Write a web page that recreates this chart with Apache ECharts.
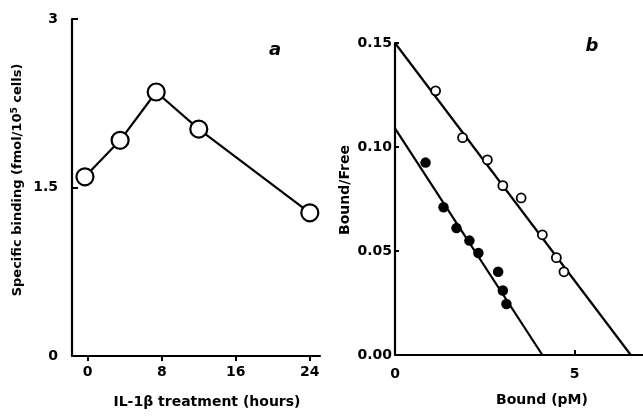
<!DOCTYPE html>
<html>
<head>
<meta charset="utf-8">
<script src="https://cdn.jsdelivr.net/npm/echarts@6/dist/echarts.min.js"></script>
<style>
  html, body { margin: 0; padding: 0; background: #fff; }
  #chart { width: 643px; height: 418px; }
</style>
</head>
<body>
<div id="chart"></div>
<script>
// panel a: binding vs IL-1b treatment time
const hours = [-0.3, 3.5, 7.4, 12.0, 24.0]
const binding = [1.595, 1.92, 2.35, 2.02, 1.275]
const hourTicks = [0, 8, 16, 24]
const bindingTicks = [0, 1.5, 3]

// panel b: Scatchard plot
const openBound = [1.13, 1.88, 2.57, 3.0, 3.51, 4.10, 4.49, 4.70]
const openRatio = [0.127, 0.1045, 0.0938, 0.0814, 0.0755, 0.0578, 0.0468, 0.040]
const filledBound = [0.85, 1.35, 1.71, 2.07, 2.32, 2.87, 3.0, 3.10]
const filledRatio = [0.0925, 0.071, 0.061, 0.055, 0.049, 0.040, 0.031, 0.0245]
// fitted lines: [y-intercept, x-intercept]
const openFit = [0.15, 6.56]
const filledFit = [0.109, 4.10]
const boundTicks = [0, 5]
const ratioTicks = [0, 0.05, 0.10, 0.15]

const font = '"DejaVu Sans", sans-serif'
const ink = '#000'

const zip = (xs, ys) => xs.map((x, i) => [x, ys[i]])
const fitLine = f => [[0, f[0]], [f[1], 0]]

const axisBase = {
  axisLine: { onZero: false, lineStyle: { color: ink, width: 2.2 } },
  splitLine: { show: false },
  axisLabel: { color: ink, fontFamily: font, fontWeight: 'bold', fontSize: 14 }
}

const chart = echarts.init(document.getElementById('chart'))
chart.setOption({
  animation: false,
  grid: [
    { left: 72, top: 19, width: 248, height: 337 },
    { left: 395, top: 43, width: 250, height: 312 }
  ],
  xAxis: [
    {
      ...axisBase, gridIndex: 0, type: 'value', min: -1.7, max: 25.1,
      axisTick: { show: true, inside: false, length: 5, lineStyle: { color: ink, width: 2 }, customValues: hourTicks },
      axisLabel: { ...axisBase.axisLabel, margin: 9, customValues: hourTicks }
    },
    {
      ...axisBase, gridIndex: 1, type: 'value', min: 0, max: 6.9,
      axisTick: { show: true, inside: true, length: 5, lineStyle: { color: ink, width: 2 }, customValues: boundTicks },
      axisLabel: { ...axisBase.axisLabel, margin: 12, customValues: boundTicks }
    }
  ],
  yAxis: [
    {
      ...axisBase, gridIndex: 0, type: 'value', min: 0, max: 3,
      axisTick: { show: true, inside: true, length: 6, lineStyle: { color: ink, width: 2 }, customValues: bindingTicks },
      axisLabel: { ...axisBase.axisLabel, margin: 14, customValues: bindingTicks }
    },
    {
      ...axisBase, gridIndex: 1, type: 'value', min: 0, max: 0.15,
      axisTick: { show: true, inside: true, length: 4, lineStyle: { color: ink, width: 2 }, customValues: ratioTicks },
      axisLabel: {
        ...axisBase.axisLabel, margin: 3, customValues: ratioTicks,
        formatter: v => v.toFixed(2)
      }
    }
  ],
  series: [
    {
      type: 'line', xAxisIndex: 0, yAxisIndex: 0,
      data: zip(hours, binding),
      symbol: 'circle', symbolSize: 17,
      lineStyle: { color: ink, width: 2.2 },
      itemStyle: { color: '#fff', borderColor: ink, borderWidth: 2.2 }
    },
    {
      type: 'line', xAxisIndex: 1, yAxisIndex: 1, data: fitLine(openFit),
      symbol: 'none', lineStyle: { color: ink, width: 2.2 }
    },
    {
      type: 'line', xAxisIndex: 1, yAxisIndex: 1, data: fitLine(filledFit),
      symbol: 'none', lineStyle: { color: ink, width: 2.2 }
    },
    {
      type: 'scatter', xAxisIndex: 1, yAxisIndex: 1,
      data: zip(openBound, openRatio), symbolSize: 9,
      itemStyle: { color: '#fff', borderColor: ink, borderWidth: 1.8, opacity: 1 }, z: 3
    },
    {
      type: 'scatter', xAxisIndex: 1, yAxisIndex: 1,
      data: zip(filledBound, filledRatio), symbolSize: 10.5,
      itemStyle: { color: ink, opacity: 1 }, z: 3
    }
  ],
  graphic: [
    {
      type: 'text', x: 18, y: 180, rotation: Math.PI / 2,
      style: {
        text: 'Specific binding (fmol/10{sup|5} cells)',
        font: 'bold 13px ' + font, fill: ink, align: 'center', verticalAlign: 'middle',
        rich: { sup: { fontSize: 9, fontWeight: 'bold', fontFamily: font, fill: ink, verticalAlign: 'top', lineHeight: 15 } }
      }
    },
    {
      type: 'text', x: 207, y: 402,
      style: { text: 'IL-1β treatment (hours)', font: 'bold 14px ' + font, fill: ink, align: 'center', verticalAlign: 'middle' }
    },
    {
      type: 'text', x: 275, y: 50,
      style: { text: 'a', font: 'italic bold 18px ' + font, fill: ink, align: 'center', verticalAlign: 'middle' }
    },
    {
      type: 'text', x: 345, y: 190, rotation: Math.PI / 2,
      style: { text: 'Bound/Free', font: 'bold 14px ' + font, fill: ink, align: 'center', verticalAlign: 'middle' }
    },
    {
      type: 'text', x: 542, y: 400,
      style: { text: 'Bound (pM)', font: 'bold 14px ' + font, fill: ink, align: 'center', verticalAlign: 'middle' }
    },
    {
      type: 'text', x: 592, y: 46,
      style: { text: 'b', font: 'italic bold 18px ' + font, fill: ink, align: 'center', verticalAlign: 'middle' }
    }
  ]
})
</script>
</body>
</html>
